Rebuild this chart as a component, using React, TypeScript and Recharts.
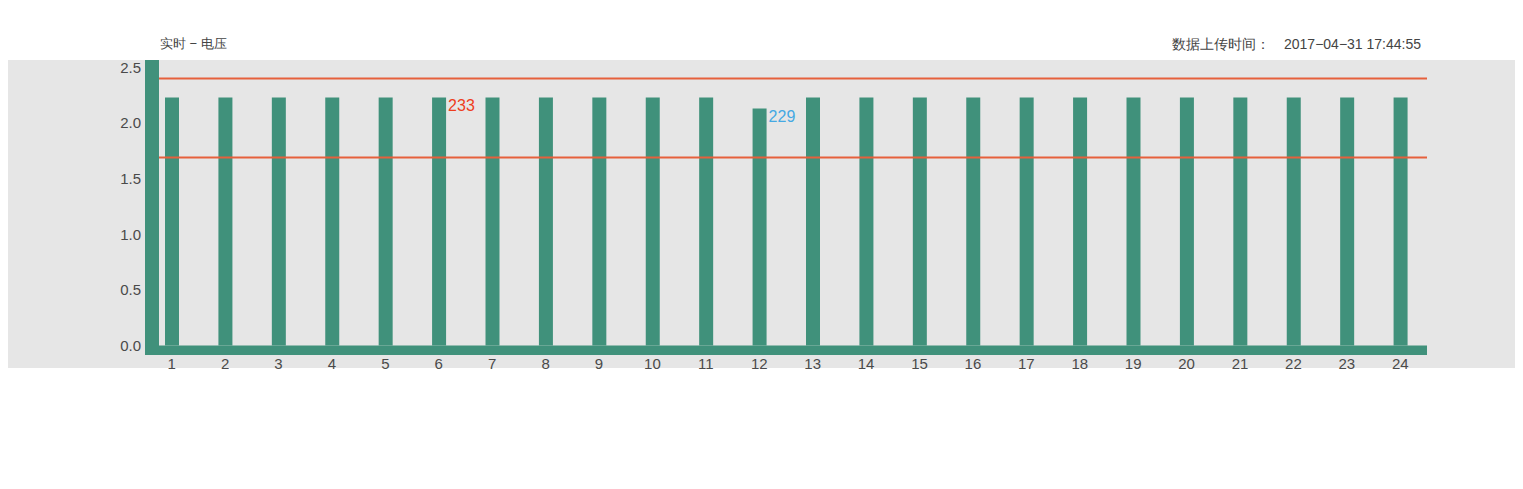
import { Bar, BarChart, LabelList, ReferenceArea, ReferenceLine, XAxis, YAxis } from 'recharts'

const hours = ['1', '2', '3', '4', '5', '6', '7', '8', '9', '10', '11', '12', '13', '14', '15', '16', '17', '18', '19', '20', '21', '22', '23', '24']
const voltage = [2.23, 2.23, 2.23, 2.23, 2.23, 2.23, 2.23, 2.23, 2.23, 2.23, 2.23, 2.13, 2.23, 2.23, 2.23, 2.23, 2.23, 2.23, 2.23, 2.23, 2.23, 2.23, 2.23, 2.23]
const highLabels = ['', '', '', '', '', '233', '', '', '', '', '', '', '', '', '', '', '', '', '', '', '', '', '', '']
const lowLabels = ['', '', '', '', '', '', '', '', '', '', '', '229', '', '', '', '', '', '', '', '', '', '', '', '']
const yTicks = [0, 0.5, 1, 1.5, 2, 2.5]
const upperLimit = 2.4
const lowerLimit = 1.69
const yDomain = [-0.085, 2.567]

const GREEN = '#40917b'
const RED_LINE = '#e6603c'
const FONT = 'Helvetica, Arial, "Liberation Sans", sans-serif'

const data = hours.map((h, i) => ({
  hour: h,
  value: voltage[i],
  high: highLabels[i],
  low: lowLabels[i],
}))

const makeLabel = (color: string) => (props: any) => {
  const { x, y, width, value } = props
  if (!value) return null
  return (
    <text x={Number(x) + Number(width) + 2} y={Number(y) + 9} fill={color} fontSize={16} fontFamily={FONT} dominantBaseline="middle">
      {value}
    </text>
  )
}

export default function App() {
  return (
    <div style={{ position: 'relative', margin: -8, width: 1523, height: 480, overflow: 'hidden', fontFamily: FONT }}>
      <div style={{ position: 'absolute', left: 5, top: 60, width: 1511, height: 308, background: '#e6e6e6' }} />
      <div style={{ position: 'absolute', left: 160, top: 36, fontSize: 13, color: '#444', lineHeight: '16px' }}>实时 − 电压</div>
      <div style={{ position: 'absolute', left: 1172, top: 36, fontSize: 14, color: '#444', lineHeight: '16px', whiteSpace: 'pre' }}>
        数据上传时间：<span style={{ marginLeft: 14 }}>2017−04−31 17:44:55</span>
      </div>
      <div style={{ position: 'absolute', left: 0, top: 0 }}>
        <BarChart width={1523} height={489} data={data} margin={{ top: 60, right: 96, bottom: 104, left: 85 }} barSize={14}>
          <ReferenceArea y1={yDomain[0]} y2={0} fill={GREEN} fillOpacity={1} stroke="none" ifOverflow="visible" />
          <XAxis
            dataKey="hour"
            axisLine={false}
            tickLine={false}
            tickSize={0}
            tickMargin={3}
            height={30}
            interval={0}
            tick={{ fill: '#4a4a4a', fontSize: 15, fontFamily: FONT }}
          />
          <YAxis
            width={60}
            domain={yDomain}
            ticks={yTicks}
            allowDataOverflow
            tickLine={false}
            tickSize={0}
            tickMargin={4}
            axisLine={{ stroke: GREEN, strokeWidth: 14, transform: 'translate(7,0)' } as any}
            tickFormatter={(v: number) => v.toFixed(1)}
            tick={{ fill: '#4a4a4a', fontSize: 15, fontFamily: FONT }}
          />
          <ReferenceLine y={upperLimit} stroke={RED_LINE} strokeWidth={2} />
          <ReferenceLine y={lowerLimit} stroke={RED_LINE} strokeWidth={2} />
          <Bar dataKey="value" fill={GREEN} isAnimationActive={false}>
            <LabelList dataKey="high" content={makeLabel('#ee3d1c')} />
            <LabelList dataKey="low" content={makeLabel('#45a9e3')} />
          </Bar>
        </BarChart>
      </div>
    </div>
  )
}
